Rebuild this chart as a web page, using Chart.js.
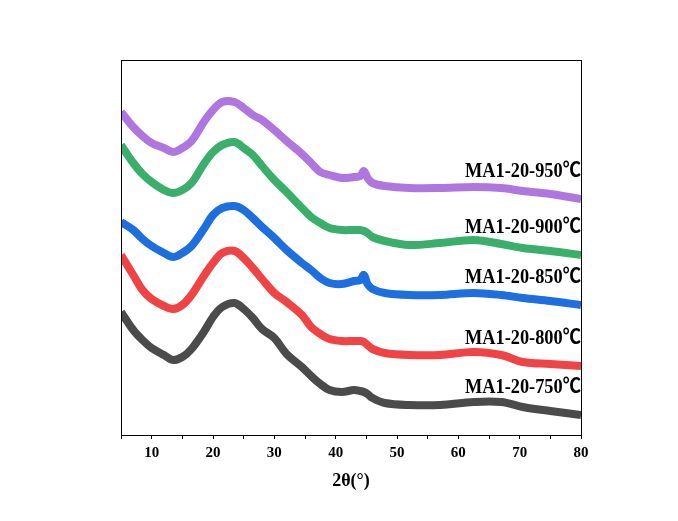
<!DOCTYPE html>
<html>
<head>
<meta charset="utf-8">
<script src="https://cdn.jsdelivr.net/npm/chart.js@4"></script>
<style>
  html, body { margin: 0; padding: 0; background: #fff; }
  #wrap { width: 678px; height: 521px; }
</style>
</head>
<body>
<div id="wrap"><canvas id="xrd"></canvas></div>
<script>
/* ── XRD patterns, MA1-20 series ── */

const twoTheta = [5,7,8.5,10,12,13.5,15,16.5,18.5,20,21.5,23.5,25,26.5,28,30,32,34.5,36,37.5,39,41,43,44,44.6,45.2,46,48,52,57,62.5,67,70.5,75,80];

const i750 = [123,105,95,87,80,75,78,86,103,118,128,132,126,117,106,97,81,68,59,51,45,43,45,44,43,41,37,32,30,30,33,33,28,24,20];
const i800 = [180,160,145,136,129,126,130,140,159,172,182,184,177,167,156,142,133,120,108,101,96,94,94,94,93,90,86,82,80,80,83,80,73,71,69];
const i850 = [213,205,196,189,182,178,182,189,206,220,227,229,225,217,208,197,185,172,165,157,152,151,154,155,160,151,146,142,140,140,142,140,137,134,130];
const i900 = [290,272,261,253,245,242,245,252,271,283,290,293,287,280,269,255,243,227,218,212,207,205,205,205,204,202,198,194,190,192,195,191,187,184,180];
const i950 = [323,308,299,292,287,283,287,294,313,325,333,333,327,320,315,305,294,281,272,263,260,257,258,259,264,257,252,249,247,247,248,247,244,241,236];

const seriesNames = ["MA1-20-750℃", "MA1-20-800℃", "MA1-20-850℃", "MA1-20-900℃", "MA1-20-950℃"];
const seriesData  = [i750, i800, i850, i900, i950];
const seriesColors = ["#4b4b4b", "#ef4346", "#1d6fe0", "#3aaf6c", "#b076e0"];

const xTicks = [5,10,15,20,25,30,35,40,45,50,55,60,65,70,75,80];

const FONT = "'Liberation Serif', 'Noto Sans CJK SC', serif";

/* frame box + curve labels (condensed bold, like the original) */
const framePlugin = {
  id: "frame",
  afterDraw(chart) {
    const { ctx, chartArea: a } = chart;
    ctx.save();
    ctx.strokeStyle = "#000";
    ctx.lineWidth = 1;
    ctx.strokeRect(a.left + 0.5, a.top + 0.5, a.right - a.left, a.bottom - a.top);

    ctx.fillStyle = "#000";
    ctx.font = "bold 20px " + FONT;
    ctx.textAlign = "right";
    ctx.textBaseline = "middle";
    chart.data.datasets.forEach((ds, i) => {
      const pts = chart.getDatasetMeta(i).data;
      const last = pts[pts.length - 1];
      const w = ctx.measureText(ds.label).width;
      const sx = 116 / w;
      ctx.save();
      ctx.translate(a.right, last.y - 27);
      ctx.scale(sx, 1);
      ctx.fillText(ds.label, 0, 0);
      ctx.restore();
    });
    ctx.restore();
  }
};

new Chart(document.getElementById("xrd"), {
  type: "line",
  data: {
    datasets: seriesData.map((d, i) => ({
      label: seriesNames[i],
      data: twoTheta.map((x, j) => ({ x: x, y: d[j] })),
      borderColor: seriesColors[i],
      borderWidth: 8,
      pointRadius: 0,
      tension: 0.35,
      fill: false
    }))
  },
  options: {
    responsive: true,
    maintainAspectRatio: false,
    animation: false,
    layout: { padding: { left: 121, right: 97, top: 60, bottom: 25 } },
    plugins: { legend: { display: false }, tooltip: { enabled: false } },
    scales: {
      x: {
        type: "linear",
        min: 5, max: 80,
        afterBuildTicks: s => { s.ticks = xTicks.map(v => ({ value: v })); },
        afterFit: s => { s.height = 61; },
        grid: { drawOnChartArea: false, color: "#000", tickLength: 4, tickWidth: 1 },
        border: { display: true, color: "#000", width: 1 },
        ticks: {
          color: "#000",
          padding: 5,
          maxRotation: 0,
          autoSkip: false,
          font: { family: FONT, size: 15, weight: "bold" },
          callback: v => (v % 10 === 0 ? String(v) : "")
        },
        title: {
          display: true,
          text: "2θ(°)",
          color: "#000",
          padding: { top: 10 },
          font: { family: FONT, size: 18, weight: "bold" }
        }
      },
      y: {
        display: false,
        min: 0, max: 375
      }
    }
  },
  plugins: [framePlugin]
});
</script>
</body>
</html>
